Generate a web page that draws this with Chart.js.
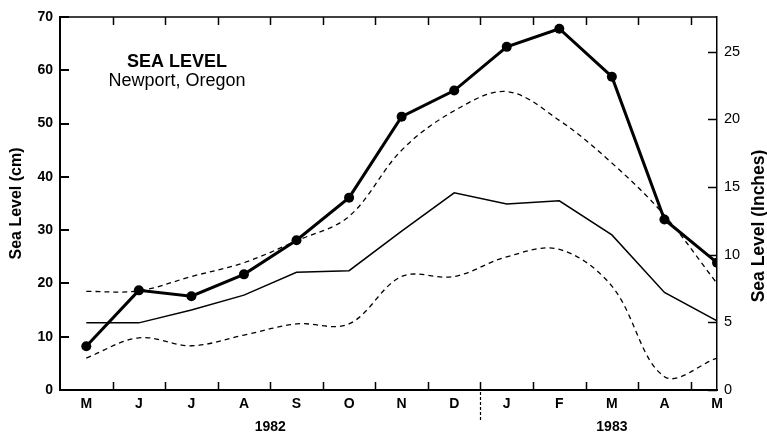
<!DOCTYPE html>
<html lang="en">
<head>
<meta charset="UTF-8">
<title>Sea Level - Newport, Oregon</title>
<script src="https://cdn.jsdelivr.net/npm/chart.js@4.4.0/dist/chart.umd.min.js"></script>
<style>
  html, body { margin: 0; padding: 0; background: #fff; }
</style>
</head>
<body>
<canvas id="myChart" width="767" height="435"></canvas>
<script>
// month axis, May 1982 .. May 1983
const months = ['M', 'J', 'J', 'A', 'S', 'O', 'N', 'D', 'J', 'F', 'M', 'A', 'M'];
// observed 1982-83 sea level (cm)
const observed = [8.2, 18.7, 17.6, 21.7, 28.1, 36.1, 51.3, 56.2, 64.4, 67.8, 58.8, 32.0, 23.9];
// long-term monthly mean and its upper / lower envelope (cm)
const mean = [12.6, 12.6, 15.0, 17.8, 22.1, 22.4, 29.8, 37.0, 34.9, 35.5, 29.1, 18.3, 13.0];
const upper = [18.5, 18.6, 21.3, 23.9, 28.0, 32.6, 45.0, 52.4, 56.0, 50.6, 42.6, 32.8, 20.0];
const lower = [6.0, 9.8, 8.3, 10.3, 12.4, 12.4, 21.3, 21.3, 25.0, 26.4, 19.5, 2.5, 6.0];
// year labels and which month indexes they cover
const years = ['1982', '1983'];
const yearSpans = [[0, 7], [8, 12]];

const FONT = "'Liberation Sans', Arial, Helvetica, sans-serif";
Chart.defaults.font.family = FONT;
Chart.defaults.color = '#000';

const toXY = arr => arr.map((v, i) => ({x: i, y: v}));

const decorations = {
    id: 'decorations',
    afterDraw(chart) {
        const ctx = chart.ctx;
        const a = chart.chartArea;
        const x = chart.scales.x;
        const y = chart.scales.y;
        const y2 = chart.scales.y2;
        ctx.save();
        ctx.strokeStyle = '#000';

        // top frame line
        ctx.lineWidth = 1.5;
        ctx.beginPath();
        ctx.moveTo(a.left, a.top);
        ctx.lineTo(a.right, a.top);
        ctx.stroke();

        // inward month-boundary ticks, bottom and top
        for (let i = 0; i < months.length - 1; i++) {
            const px = Math.round(x.getPixelForValue(i + 0.5)) + 0.5;
            ctx.beginPath();
            ctx.moveTo(px, a.bottom);
            ctx.lineTo(px, a.bottom - 8);
            ctx.moveTo(px, a.top);
            ctx.lineTo(px, a.top + 8);
            ctx.stroke();
        }

        // inward ticks on the cm axis
        ctx.lineWidth = 2;
        y.ticks.forEach(t => {
            const py = Math.round(y.getPixelForValue(t.value));
            ctx.beginPath();
            ctx.moveTo(a.left, py);
            ctx.lineTo(a.left + 9, py);
            ctx.stroke();
        });

        // inward ticks on the inches axis
        ctx.lineWidth = 1.5;
        y2.ticks.forEach(t => {
            const py = Math.round(y2.getPixelForValue(t.value)) + 0.5;
            ctx.beginPath();
            ctx.moveTo(a.right, py);
            ctx.lineTo(a.right - 9, py);
            ctx.stroke();
        });

        // dashed separator between the years
        const sx = Math.round(x.getPixelForValue(7.5)) + 0.5;
        ctx.lineWidth = 1.2;
        ctx.setLineDash([3, 2]);
        ctx.beginPath();
        ctx.moveTo(sx, a.bottom + 2);
        ctx.lineTo(sx, a.bottom + 32);
        ctx.stroke();
        ctx.setLineDash([]);

        // year labels
        ctx.fillStyle = '#000';
        ctx.textAlign = 'center';
        ctx.textBaseline = 'middle';
        ctx.font = 'bold 14px ' + FONT;
        years.forEach((yr, k) => {
            const mid = (yearSpans[k][0] + yearSpans[k][1]) / 2;
            ctx.fillText(yr, x.getPixelForValue(mid), 427);
        });

        // right axis title, reading upward
        ctx.save();
        ctx.translate(759, 226);
        ctx.rotate(-Math.PI / 2);
        ctx.font = 'bold 17.5px ' + FONT;
        ctx.fillText('Sea Level (Inches)', 0, 0);
        ctx.restore();

        // in-plot title
        ctx.font = 'bold 18px ' + FONT;
        ctx.fillText('SEA LEVEL', 177, 62);
        ctx.font = '18px ' + FONT;
        ctx.fillText('Newport, Oregon', 177, 81);
        ctx.restore();
    }
};

const chartArea = document.getElementById('myChart').getContext('2d');
const myChart = new Chart(chartArea, {
    type: 'line',
    data: {
        datasets: [
            {
                label: '1982-83',
                data: toXY(observed),
                borderColor: '#000',
                backgroundColor: '#000',
                borderWidth: 3,
                pointRadius: 5,
                pointBackgroundColor: '#000',
                pointBorderWidth: 0,
                tension: 0
            },
            {
                label: 'mean',
                data: toXY(mean),
                borderColor: '#000',
                borderWidth: 1.5,
                pointRadius: 0,
                tension: 0
            },
            {
                label: 'upper',
                data: toXY(upper),
                borderColor: '#000',
                borderWidth: 1.3,
                borderDash: [5, 4],
                pointRadius: 0,
                tension: 0.35
            },
            {
                label: 'lower',
                data: toXY(lower),
                borderColor: '#000',
                borderWidth: 1.3,
                borderDash: [5, 4],
                pointRadius: 0,
                tension: 0.35
            }
        ]
    },
    options: {
        responsive: false,
        animation: false,
        devicePixelRatio: 1,
        layout: {padding: {top: 17, right: 0, bottom: 0, left: 0}},
        plugins: {legend: {display: false}, tooltip: {enabled: false}},
        scales: {
            x: {
                type: 'linear',
                min: -0.5,
                max: 12,
                afterBuildTicks: s => { s.ticks = months.map((m, i) => ({value: i})); },
                afterFit: s => { s.height = 45; },
                ticks: {
                    callback: v => months[v],
                    font: {weight: 'bold', size: 14},
                    color: '#000',
                    padding: 6,
                    maxRotation: 0,
                    autoSkip: false
                },
                grid: {display: false, drawTicks: false},
                border: {display: true, color: '#000', width: 2}
            },
            y: {
                position: 'left',
                min: 0,
                max: 70,
                afterFit: s => { s.width = 60; },
                ticks: {stepSize: 10, font: {weight: 'bold', size: 14}, color: '#000', padding: 7},
                grid: {display: false, drawTicks: false},
                border: {color: '#000', width: 2},
                title: {display: true, text: 'Sea Level (cm)', font: {weight: 'bold', size: 16}, color: '#000', padding: {top: 7, bottom: 0}}
            },
            y2: {
                position: 'right',
                min: 0,
                max: 70 / 2.54,
                afterFit: s => { s.width = 50; },
                afterBuildTicks: s => { s.ticks = [0, 5, 10, 15, 20, 25].map(v => ({value: v})); },
                ticks: {font: {size: 14.5}, color: '#000', padding: 7},
                grid: {display: false, drawTicks: false},
                border: {color: '#000', width: 1.5}
            }
        }
    },
    plugins: [decorations]
});
</script>
</body>
</html>
